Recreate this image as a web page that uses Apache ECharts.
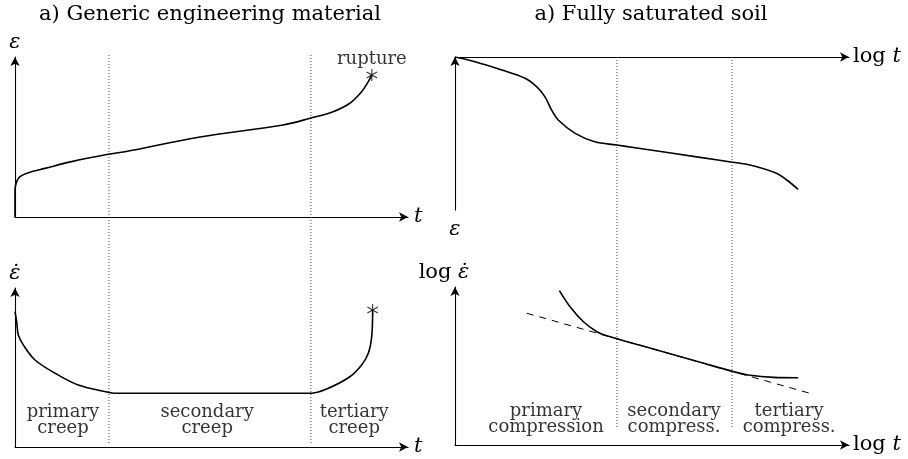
<!DOCTYPE html>
<html>
<head>
<meta charset="utf-8">
<script src="https://cdn.jsdelivr.net/npm/echarts@6/dist/echarts.min.js"></script>
<style>
  html, body { margin: 0; padding: 0; background: #fff; }
  #chart { width: 908px; height: 459px; }
</style>
</head>
<body>
<div id="chart"></div>
<script>
// Generic engineering material: creep strain and strain rate against time (0–100 on each axis)
const creepT = [0, 0, 0.43, 1.27, 3.38, 7.63, 14.4, 23.7, 28, 47.1, 68.2, 75.1, 80.9, 85.2, 88.2, 89.9, 90.8];
const creepStrain = [0, 16.9, 22.1, 25.2, 27.7, 30.4, 34.6, 39.2, 40.8, 50, 57.5, 61.7, 65.8, 71.1, 78.3, 84.6, 88.8];

const rateT = [0, 0.43, 0.84, 2.11, 5.09, 10.2, 16.1, 23.7, 25.4, 75.1, 79.3, 85.2, 88.2, 89.9, 90.8, 91];
const creepRate = [85.1, 78.8, 70.4, 64.2, 54.7, 46.4, 39, 34.4, 33.8, 33.8, 36.5, 44.2, 51.6, 58.9, 70.4, 86.2];

// Fully saturated soil: settlement and strain rate against log time
const soilLogT = [0, 5.08, 11.9, 17.8, 20.7, 22.8, 24.5, 26.2, 30.5, 35.5, 41, 45.7, 62.2, 70.4, 74.9, 81.6, 84.2, 87.1];
const soilStrain = [0, 3.07, 8.5, 13.9, 19.4, 25.9, 34.6, 41.2, 49.9, 55.4, 57.5, 59.3, 65.6, 68.8, 70.6, 76, 80.4, 86.5];

const soilRateLogT = [26.5, 29.2, 32.6, 36, 38.5, 47, 62.2, 70.6, 74.4, 80.8, 87.1];
const soilRate = [97.7, 87.5, 78, 71.7, 69.1, 63.1, 52.4, 46.5, 44.3, 42.8, 42.6];

// Straight secondary-compression trend
const secondaryLogT = [18.2, 90.1];
const secondaryRate = [83.4, 32.7];

// Stage boundaries
const creepBounds = [23.9, 75.3];
const soilBounds = [41.1, 70.3];

// Stage names and where they sit along the time axis
const creepStages = ['primary\ncreep', 'secondary\ncreep', 'tertiary\ncreep'];
const creepStageT = [12.2, 48.9, 86.3];
const creepStageLevel = 17;
const soilStages = ['primary\ncompression', 'secondary\ncompress.', 'tertiary\ncompress.'];
const soilStageT = [23.1, 55.6, 84.8];
const soilStageLevel = 16.5;

const titles = ['a) Generic engineering material', 'a) Fully saturated soil'];

const SERIF = '"DejaVu Serif", serif';
const INK = '#000';

const zip = (xs, ys) => xs.map((x, i) => [x, ys[i]]);

// six-spoke asterisk marking rupture
const STAR = 'path://M-0.45 5L0.45 5L0.45 -5L-0.45 -5Z' +
  'M4.105 2.89L4.555 2.11L-4.105 -2.89L-4.555 -2.11Z' +
  'M-4.555 2.11L-4.105 2.89L4.555 -2.11L4.105 -2.89Z';

const italic = { fontFamily: SERIF, fontSize: 21, fontStyle: 'italic', color: INK };
const upright = { fontFamily: SERIF, fontSize: 21, fontStyle: 'normal', color: INK };

function arrowAxis(gridIndex, name, extra) {
  return Object.assign({
    type: 'value', gridIndex, min: 0, max: 100,
    axisLine: {
      show: true, onZero: false,
      symbol: ['none', 'arrow'], symbolSize: [7, 9],
      lineStyle: { color: INK, width: 1.1 }
    },
    axisTick: { show: false },
    axisLabel: { show: false },
    splitLine: { show: false },
    name, nameLocation: 'end', nameGap: 6,
    nameTextStyle: Object.assign({}, italic, {
      rich: { a: Object.assign({}, upright), i: Object.assign({}, italic) }
    })
  }, extra || {});
}

function hiddenAxis(gridIndex) {
  return { type: 'value', gridIndex, min: 0, max: 100, show: false };
}

function curve(xi, yi, xs, ys, extra) {
  return Object.assign({
    type: 'line', xAxisIndex: xi, yAxisIndex: yi,
    data: zip(xs, ys), showSymbol: false, smooth: 0.35,
    lineStyle: { color: INK, width: 1.6 }, silent: true, z: 3
  }, extra || {});
}

function divider(xi, x) {
  return {
    type: 'line', xAxisIndex: xi, yAxisIndex: xi,
    data: [[x, 0], [x, 100]], showSymbol: false, silent: true, z: 1,
    lineStyle: { color: '#444', width: 1, type: [1, 2] }
  };
}

const plainText = { fontFamily: SERIF, fontSize: 18, color: INK, textBorderWidth: 0, textShadowBlur: 0 };

function stageLabels(xi, names, xs, level) {
  return {
    type: 'scatter', xAxisIndex: xi, yAxisIndex: xi, silent: true, z: 4,
    symbolSize: 1, itemStyle: { color: 'rgba(0,0,0,0)' },
    data: names.map((n, i) => ({ value: [xs[i], level], name: n })),
    label: Object.assign({
      show: true, position: 'inside', formatter: p => p.name,
      lineHeight: 16, align: 'center'
    }, plainText)
  };
}

function star(xi, x, y, label) {
  return {
    type: 'scatter', xAxisIndex: xi, yAxisIndex: xi, silent: true, z: 5,
    symbol: STAR, symbolSize: [11, 12], itemStyle: { color: INK },
    data: [[x, y]],
    label: label ? Object.assign({
      show: true, position: 'top', distance: 1, formatter: label
    }, plainText) : { show: false }
  };
}

const chart = echarts.init(document.getElementById('chart'), null, { renderer: 'canvas' });

chart.setOption({
  animation: false,
  backgroundColor: '#fff',
  graphic: [
    { type: 'text', x: 210, y: 15, style: { text: titles[0], align: 'center', verticalAlign: 'middle', font: '21px ' + SERIF, fill: INK } },
    { type: 'text', x: 651, y: 15, style: { text: titles[1], align: 'center', verticalAlign: 'middle', font: '21px ' + SERIF, fill: INK } }
  ],
  grid: [
    { left: 15, top: 57, width: 393, height: 160, outerBoundsMode: 'none' },   // ε(t)
    { left: 15, top: 288, width: 393, height: 159, outerBoundsMode: 'none' },  // ε̇(t)
    { left: 455, top: 57, width: 394, height: 153, outerBoundsMode: 'none' },  // ε(log t)
    { left: 455, top: 287, width: 394, height: 158, outerBoundsMode: 'none' }, // log ε̇(log t)
    { left: 15, top: 55, width: 393, height: 388, outerBoundsMode: 'none' },   // left stage boundaries
    { left: 455, top: 57, width: 394, height: 370, outerBoundsMode: 'none' }   // right stage boundaries
  ],
  xAxis: [
    arrowAxis(0, 't'),
    arrowAxis(1, 't'),
    arrowAxis(2, '{a|log }{i|t}', { position: 'top', nameGap: 4 }),
    arrowAxis(3, '{a|log }{i|t}', { nameGap: 4 }),
    hiddenAxis(4),
    hiddenAxis(5)
  ],
  yAxis: [
    arrowAxis(0, 'ε', { nameGap: 4 }),
    arrowAxis(1, 'ε\u0307', { nameGap: 4 }),
    arrowAxis(2, 'ε', { inverse: true, nameGap: 9 }),
    arrowAxis(3, '{a|log }{i|ε\u0307}', { nameGap: 4, nameTextStyle: Object.assign({}, italic, { padding: [0, 22, 0, 0], rich: { a: Object.assign({}, upright), i: Object.assign({}, italic) } }) }),
    hiddenAxis(4),
    hiddenAxis(5)
  ],
  series: [
    divider(4, creepBounds[0]),
    divider(4, creepBounds[1]),
    divider(5, soilBounds[0]),
    divider(5, soilBounds[1]),
    curve(0, 0, creepT, creepStrain),
    curve(1, 1, rateT, creepRate),
    curve(2, 2, soilLogT, soilStrain),
    curve(3, 3, soilRateLogT, soilRate),
    curve(3, 3, secondaryLogT, secondaryRate, { smooth: false, lineStyle: { color: INK, width: 1, type: [7, 6] }, z: 2 }),
    star(0, creepT[creepT.length - 1], creepStrain[creepStrain.length - 1], 'rupture'),
    star(1, rateT[rateT.length - 1], creepRate[creepRate.length - 1]),
    stageLabels(1, creepStages, creepStageT, creepStageLevel),
    stageLabels(3, soilStages, soilStageT, soilStageLevel)
  ]
});
</script>
</body>
</html>
